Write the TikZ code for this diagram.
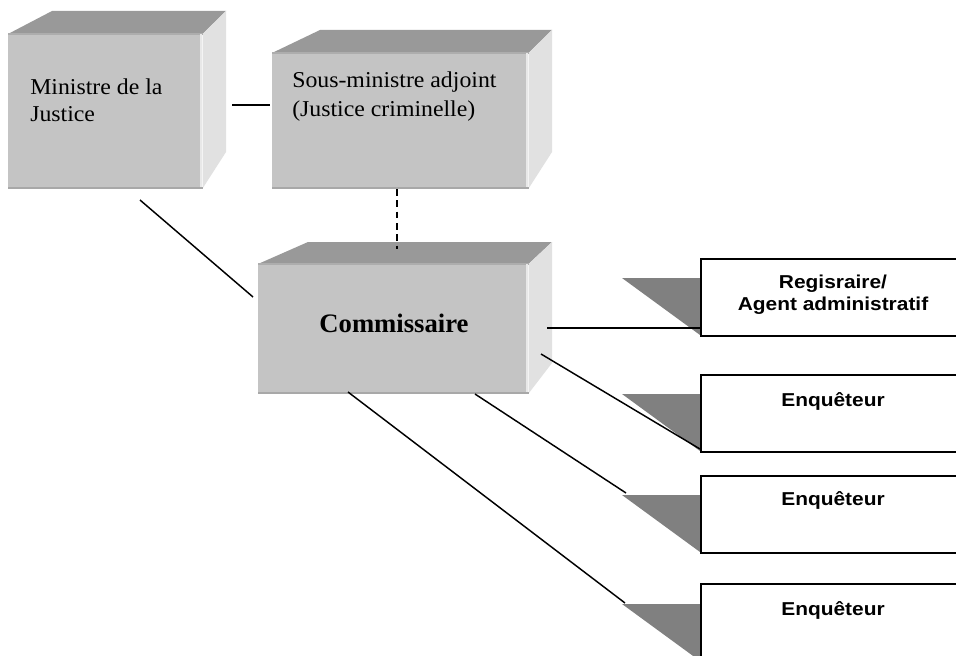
\documentclass[tikz,border=0pt]{standalone}
\usepackage{fontspec}
\setmainfont{Liberation Serif}
\newfontfamily\serifst[FakeStretch=1.05]{Liberation Serif}
\newfontfamily\sansst[FakeStretch=1.12]{Liberation Sans}
\definecolor{frontc}{HTML}{C4C4C4}
\definecolor{topc}{HTML}{999999}
\definecolor{sidec}{HTML}{E1E1E1}
\definecolor{hilite}{HTML}{E8E8E8}
\definecolor{lowedge}{HTML}{A8A8A8}
\definecolor{topedge}{HTML}{ADADAD}
\definecolor{shadowc}{HTML}{808080}
\begin{document}
\begin{tikzpicture}[x=0.75pt,y=-0.75pt,
  frontface/.style={fill=frontc,draw=none,inner sep=0pt,anchor=north west},
  topface/.style={fill=topc,draw=none},
  sideface/.style={fill=sidec,draw=none},
  serifline/.style={font=\serifst\fontsize{17pt}{20pt}\selectfont,inner sep=0pt,anchor=base west},
  boldserif/.style={font=\fontsize{20pt}{24pt}\selectfont\bfseries,inner sep=0pt,anchor=base},
  sansline/.style={font=\sansst\fontsize{14pt}{16.5pt}\selectfont\bfseries,inner sep=0pt,anchor=base},
  rbox/.style={draw=black,line width=1.5pt,fill=white,inner sep=0pt,anchor=north west,minimum width=199.5pt,minimum height=57.75pt},
  tri/.style={fill=shadowc,draw=none},
  conn/.style={draw=black,line width=1.1pt},
  dconn/.style={draw=black,line width=1.1pt,dash pattern=on 5pt off 3.5pt}]
\useasboundingbox (0,0) rectangle (956,656);
\clip (0,0) rectangle (956,656);
\fill[white] (0,0) rectangle (956,656);

% ---------- Box 1: Ministre de la Justice ----------
\node[frontface,minimum width=145.5pt,minimum height=115.5pt] (min) at (8,34) {};
\fill[topface] (min.north west) -- (52,11) -- (226,11) -- (min.north east) -- cycle;
\fill[sideface] (min.north east) -- (226,11) -- (226,152) -- (min.south east) -- cycle;
\draw[topedge,line width=1pt] (min.north west) -- (min.north east);
\draw[hilite,line width=1.2pt] ([xshift=-1pt]min.north east) -- ([xshift=-1pt]min.south east);
\draw[lowedge,line width=1.2pt] ([yshift=0.6pt]min.south west) -- ([yshift=0.6pt]min.south east);
\node[serifline] (min1) at (30,95) {Ministre de la};
\node[serifline] (min2) at (30,122) {Justice};

% ---------- Box 2: Sous-ministre adjoint ----------
\node[frontface,minimum width=192pt,minimum height=101.25pt] (sma) at (272,53) {};
\fill[topface] (sma.north west) -- (320,30) -- (552,30) -- (sma.north east) -- cycle;
\fill[sideface] (sma.north east) -- (552,30) -- (552,152) -- (sma.south east) -- cycle;
\draw[topedge,line width=1pt] (sma.north west) -- (sma.north east);
\draw[hilite,line width=1.2pt] ([xshift=-1pt]sma.north east) -- ([xshift=-1pt]sma.south east);
\draw[lowedge,line width=1.2pt] ([yshift=0.6pt]sma.south west) -- ([yshift=0.6pt]sma.south east);
\node[serifline] (sma1) at (292,88) {Sous-ministre adjoint};
\node[serifline] (sma2) at (292,116.5) {(Justice criminelle)};

% ---------- Box 3: Commissaire ----------
\node[frontface,minimum width=202.5pt,minimum height=96.75pt] (com) at (258,264) {};
\fill[topface] (com.north west) -- (308,242) -- (552,242) -- (com.north east) -- cycle;
\fill[sideface] (com.north east) -- (552,242) -- (552,363) -- (com.south east) -- cycle;
\draw[topedge,line width=1pt] (com.north west) -- (com.north east);
\draw[hilite,line width=1.2pt] ([xshift=-1pt]com.north east) -- ([xshift=-1pt]com.south east);
\draw[lowedge,line width=1.2pt] ([yshift=0.6pt]com.south west) -- ([yshift=0.6pt]com.south east);
\node[boldserif] (comt) at (394,332) {Commissaire};

% ---------- shadow triangles ----------
\fill[tri] (622,278) -- (700,278) -- (700,335) -- cycle;
\fill[tri] (622,394) -- (700,394) -- (700,451) -- cycle;
\fill[tri] (622,495) -- (700,495) -- (700,552) -- cycle;
\fill[tri] (622,604) -- (700,604) -- (700,661) -- cycle;

% ---------- connector end points ----------
\coordinate (c1a) at (232,105);  \coordinate (c1b) at (270,105);
\coordinate (c2a) at (397,189);  \coordinate (c2b) at (397,249);
\coordinate (c3a) at (140,200);  \coordinate (c3b) at (253,297);
\coordinate (c4a) at (547,328);  \coordinate (c4b) at (700,328);
\coordinate (c5a) at (541,354);  \coordinate (c5b) at (700,449);
\coordinate (c6a) at (475,394);  \coordinate (c6b) at (626,493);
\coordinate (c7a) at (348,392);  \coordinate (c7b) at (625,603);

\draw[conn] (c1a) -- (c1b);
\draw[dconn] (c2a) -- (c2b);
\draw[conn] (c3a) -- (c3b);
\draw[conn] (c4a) -- (c4b);
\draw[conn] (c5a) -- (c5b);
\draw[conn] (c6a) -- (c6b);
\draw[conn] (c7a) -- (c7b);

% ---------- right boxes ----------
\node[rbox] (reg) at (700,258) {};
\node[rbox] (enq1) at (700,374) {};
\node[rbox] (enq2) at (700,475) {};
\node[rbox] (enq3) at (700,583) {};

\node[sansline] (regt1) at (833,288) {Regisraire/};
\node[sansline] (regt2) at (833,310) {Agent administratif};
\node[sansline] (enq1t) at (833,406) {Enquêteur};
\node[sansline] (enq2t) at (833,505) {Enquêteur};
\node[sansline] (enq3t) at (833,615) {Enquêteur};
\end{tikzpicture}
\end{document}
